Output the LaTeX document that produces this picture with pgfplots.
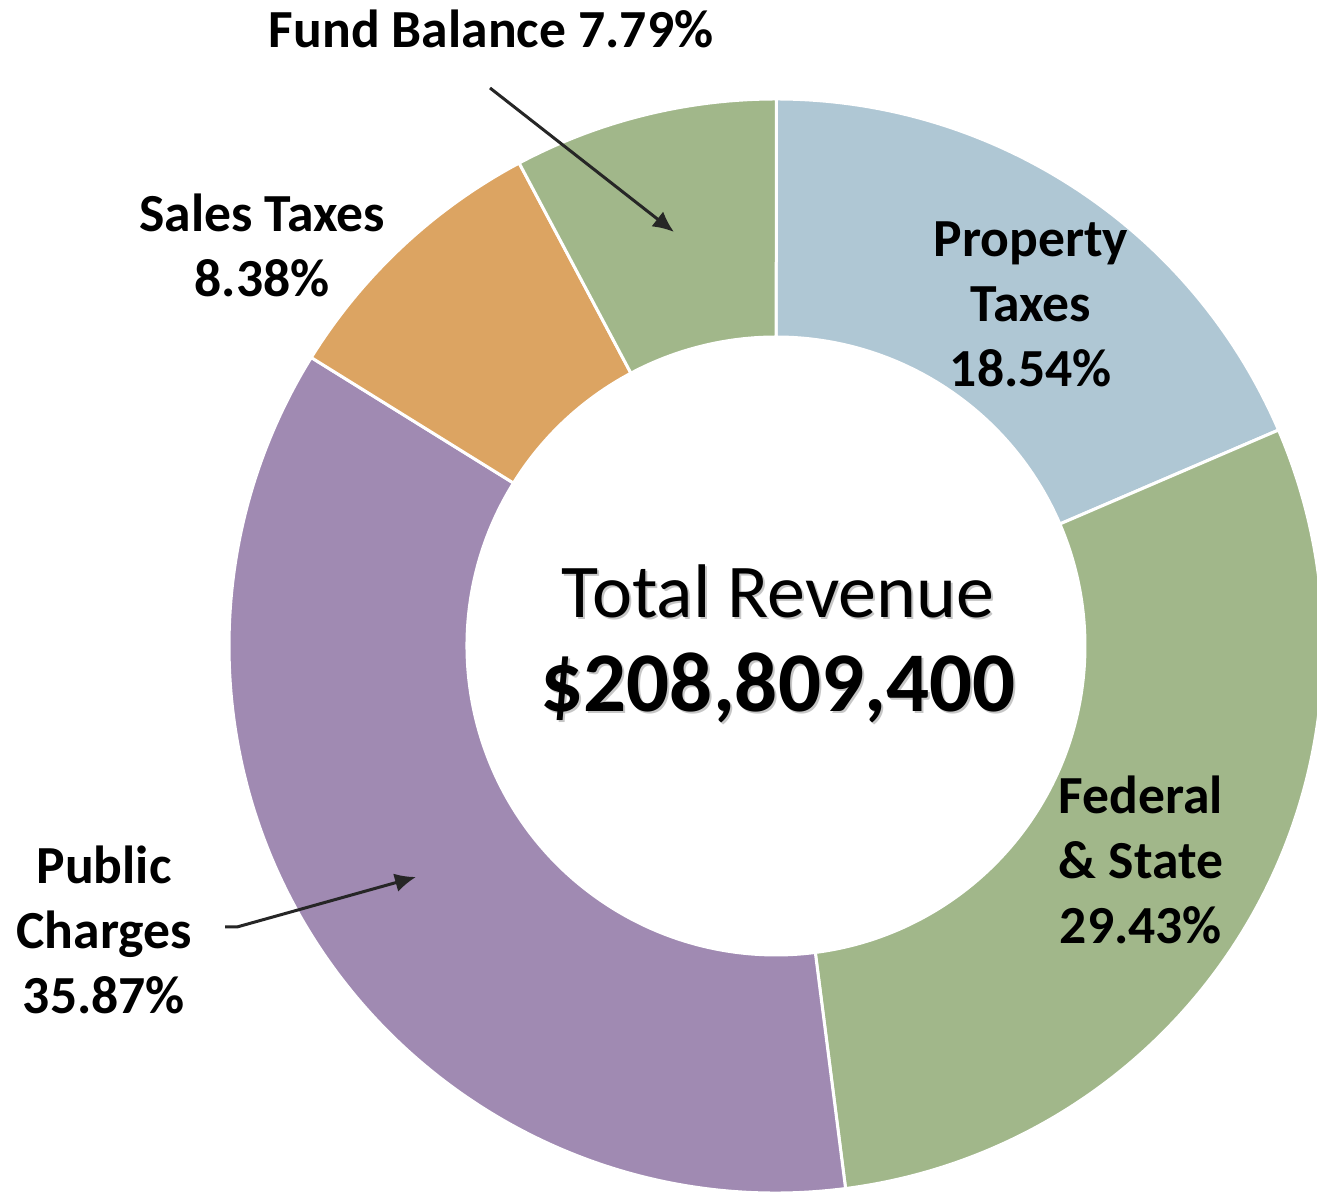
\documentclass[border=0pt]{standalone}
\usepackage{pgfplots}
\pgfplotsset{compat=1.18}
\usepackage{pgfplotstable}
\usepackage{fontspec}
\setmainfont{Carlito}
\usetikzlibrary{arrows.meta}

\definecolor{cProp}{HTML}{AFC7D4}
\definecolor{cFed}{HTML}{A1B78A}
\definecolor{cPub}{HTML}{A08AB2}
\definecolor{cSales}{HTML}{DCA462}
\definecolor{cFund}{HTML}{A1B78A}
\definecolor{cArrow}{HTML}{262626}

% revenue shares in percent, clockwise from 12 o'clock
\pgfplotstableread{
label value colour
Property 18.54 cProp
Federal 29.43 cFed
Public 35.87 cPub
Sales 8.38 cSales
Fund 7.79 cFund
}\revtable

\newcommand{\lbl}{\fontsize{26.8}{32.5}\selectfont\bfseries}

\begin{document}
\begin{tikzpicture}
\begin{axis}[
  x=0.5pt, y=0.5pt,
  xmin=-776, xmax=541, ymin=-546, ymax=646,
  scale only axis, hide axis,
]
\pgfplotsextra{
  \def\Rout{273.5pt}\def\Rin{154.5pt}\def\Rw{119pt}
  \xdef\cum{90}
  \pgfplotstablegetrowsof{\revtable}
  \pgfmathtruncatemacro\nrows{\pgfplotsretval-1}
  \foreach \i in {0,...,\nrows}{
    \pgfplotstablegetelem{\i}{value}\of\revtable
    \pgfmathsetmacro\aS{\cum}
    \pgfmathsetmacro\aE{\cum-\pgfplotsretval*3.6}
    \pgfplotstablegetelem{\i}{colour}\of\revtable
    \edef\col{\pgfplotsretval}
    \fill[\col, draw=white, line width=1.5pt]
      (axis cs:0,0) ++(\aS:\Rout) arc[start angle=\aS, end angle=\aE, radius=\Rout]
      -- ++(\aE:-\Rw) arc[start angle=\aE, end angle=\aS, radius=\Rin] -- cycle;
    \xdef\cum{\aE}
  }
}
% arrows
\draw[cArrow, line width=1.5pt, -{Latex[length=10.5pt, width=9.5pt]}]
  (axis cs:-286,558) -- (axis cs:-102,414);
\draw[cArrow, line width=1.5pt, -{Latex[length=10.5pt, width=9.5pt]}]
  (axis cs:-551,-281) -- (axis cs:-539,-281) -- (axis cs:-360,-231);
% labels
\node[font=\lbl] at (axis cs:-285,617) {Fund Balance 7.79\%};
\node[font=\lbl, align=center] at (axis cs:-514,401) {Sales Taxes\\8.38\%};
\node[font=\lbl, align=center] at (axis cs:255,342) {Property\\Taxes\\18.54\%};
\node[font=\lbl, align=center] at (axis cs:365,-214) {Federal\\\& State\\29.43\%};
\node[font=\lbl, align=center] at (axis cs:-672,-284) {Public\\Charges\\35.87\%};
% centre text
\node[font=\fontsize{38}{40}\selectfont, text=gray!45] at (axis cs:4,53) {Total Revenue};
\node[font=\fontsize{38}{40}\selectfont] at (axis cs:2,55) {Total Revenue};
\node[font=\fontsize{42.5}{45}\selectfont\bfseries, text=gray!45] at (axis cs:4,-44) {\$208,809,400};
\node[font=\fontsize{42.5}{45}\selectfont\bfseries] at (axis cs:2,-42) {\$208,809,400};
\end{axis}
\pgfresetboundingbox
\path[use as bounding box] (current axis.south west) rectangle (current axis.north east);
\end{tikzpicture}
\end{document}
